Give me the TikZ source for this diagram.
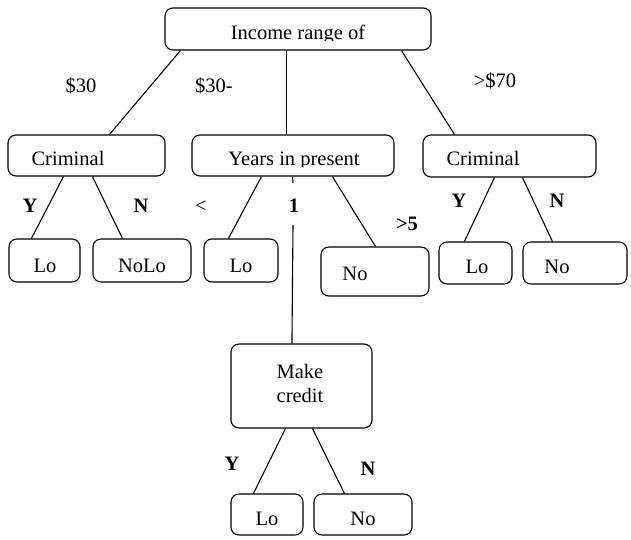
\documentclass[tikz,border=0pt]{standalone}
\usepackage{fontspec}
\setmainfont{Liberation Serif}
\begin{document}
\begin{tikzpicture}[x=1pt,y=-1pt,
  box/.style={draw,line width=1.1pt,rounded corners=8pt,inner sep=0pt},
  txt/.style={anchor=base,inner sep=0pt,font=\fontsize{20.5}{24}\selectfont},
  lab/.style={txt,font=\fontsize{20.5}{24}\selectfont\bfseries},
  edge/.style={line width=1.1pt}]
\useasboundingbox (0,0) rectangle (631,539);

% decision boxes
\node[box,minimum width=266pt,minimum height=42pt] (root)  at (298,29) {};
\node[box,minimum width=157pt,minimum height=41pt] (crimL) at (86.5,155.5) {};
\node[box,minimum width=202pt,minimum height=41pt] (years) at (293,155.5) {};
\node[box,minimum width=173pt,minimum height=42pt] (crimR) at (509.5,156) {};
\node[box,minimum width=141pt,minimum height=84pt] (make)  at (301.5,386) {};
% leaf boxes
\node[box,minimum width=71pt,minimum height=43pt]  (loA)   at (44.5,260.5) {};
\node[box,minimum width=98pt,minimum height=43pt]  (noloA) at (142,260.5) {};
\node[box,minimum width=74pt,minimum height=43pt]  (loB)   at (241,260.5) {};
\node[box,minimum width=108pt,minimum height=49pt] (noB)   at (375,271.5) {};
\node[box,minimum width=73pt,minimum height=42pt]  (loC)   at (475.5,263) {};
\node[box,minimum width=104pt,minimum height=42pt] (noC)   at (575,263) {};
\node[box,minimum width=72pt,minimum height=41pt]  (loD)   at (267,514.5) {};
\node[box,minimum width=98pt,minimum height=41pt]  (noD)   at (363,514.5) {};

% box texts (the two long ones are cut off just below the baseline)
\begin{scope}
  \clip (170,12) rectangle (426,40);
  \node[txt] (troot) at (298,39) {Income range of};
\end{scope}
\begin{scope}
  \clip (196,138) rectangle (390,166);
  \node[txt] (tyears) at (294,165) {Years in present};
\end{scope}
\node[txt] (tcrimL) at (68,165)  {Criminal};
\node[txt] (tcrimR) at (483,165) {Criminal};
\node[txt] (tloA)   at (45,272)  {Lo};
\node[txt] (tnoloA) at (142,272) {NoLo};
\node[txt] (tloB)   at (241,272) {Lo};
\node[txt] (tnoB)   at (355,280) {No};
\node[txt] (tloC)   at (477,273) {Lo};
\node[txt] (tnoC)   at (557,273) {No};
\node[txt] (tmake1) at (300,378) {Make};
\node[txt] (tmake2) at (300,402) {credit};
\node[txt] (tloD)   at (267,525) {Lo};
\node[txt] (tnoD)   at (363,525) {No};

% branch labels
\node[txt] (l30)   at (81,92)   {\$30};
\node[txt] (l3070) at (214,92)  {\$30-};
\node[txt] (l70)   at (495,87)  {>\$70};
\node[lab] (ly1)   at (30,212)  {Y};
\node[lab] (ln1)   at (141,212) {N};
\node[txt] (llt)   at (201,212) {<};
\node[lab] (lone)  at (294,212) {1};
\node[lab] (lgt5)  at (407,230) {>5};
\node[lab] (ly2)   at (459,207) {Y};
\node[lab] (ln2)   at (557,207) {N};
\node[lab] (ly3)   at (232,470) {Y};
\node[lab] (ln3)   at (368,475) {N};

% connectors
\draw[edge] ([xshift=16pt]root.south west)  -- ([xshift=102pt]crimL.north west);
\draw[edge] ([xshift=122pt]root.south west) -- ([xshift=95pt]years.north west);
\draw[edge] ([xshift=237pt]root.south west) -- ([xshift=32pt]crimR.north west);

\draw[edge] ([xshift=56pt]crimL.south west) -- ([xshift=23pt]loA.north west);
\draw[edge] ([xshift=85pt]crimL.south west) -- ([xshift=30pt]noloA.north west);

\draw[edge] ([xshift=70pt]years.south west)  -- ([xshift=25pt]loB.north west);
\draw[edge] ([xshift=141pt]years.south west) -- ([xshift=55pt]noB.north west);
\coordinate (gapTop) at (293,183);
\coordinate (gapBot) at (293,225);
\draw[edge] ([xshift=101pt]years.south west) -- (gapTop);
\draw[edge] (gapBot) -- ([xshift=61.5pt]make.north west);

\draw[edge] ([xshift=72pt]crimR.south west)  -- ([xshift=26pt]loC.north west);
\draw[edge] ([xshift=100pt]crimR.south west) -- ([xshift=30pt]noC.north west);

\draw[edge] ([xshift=55pt]make.south west) -- ([xshift=23pt]loD.north west);
\draw[edge] ([xshift=82pt]make.south west) -- ([xshift=31pt]noD.north west);
\end{tikzpicture}
\end{document}
